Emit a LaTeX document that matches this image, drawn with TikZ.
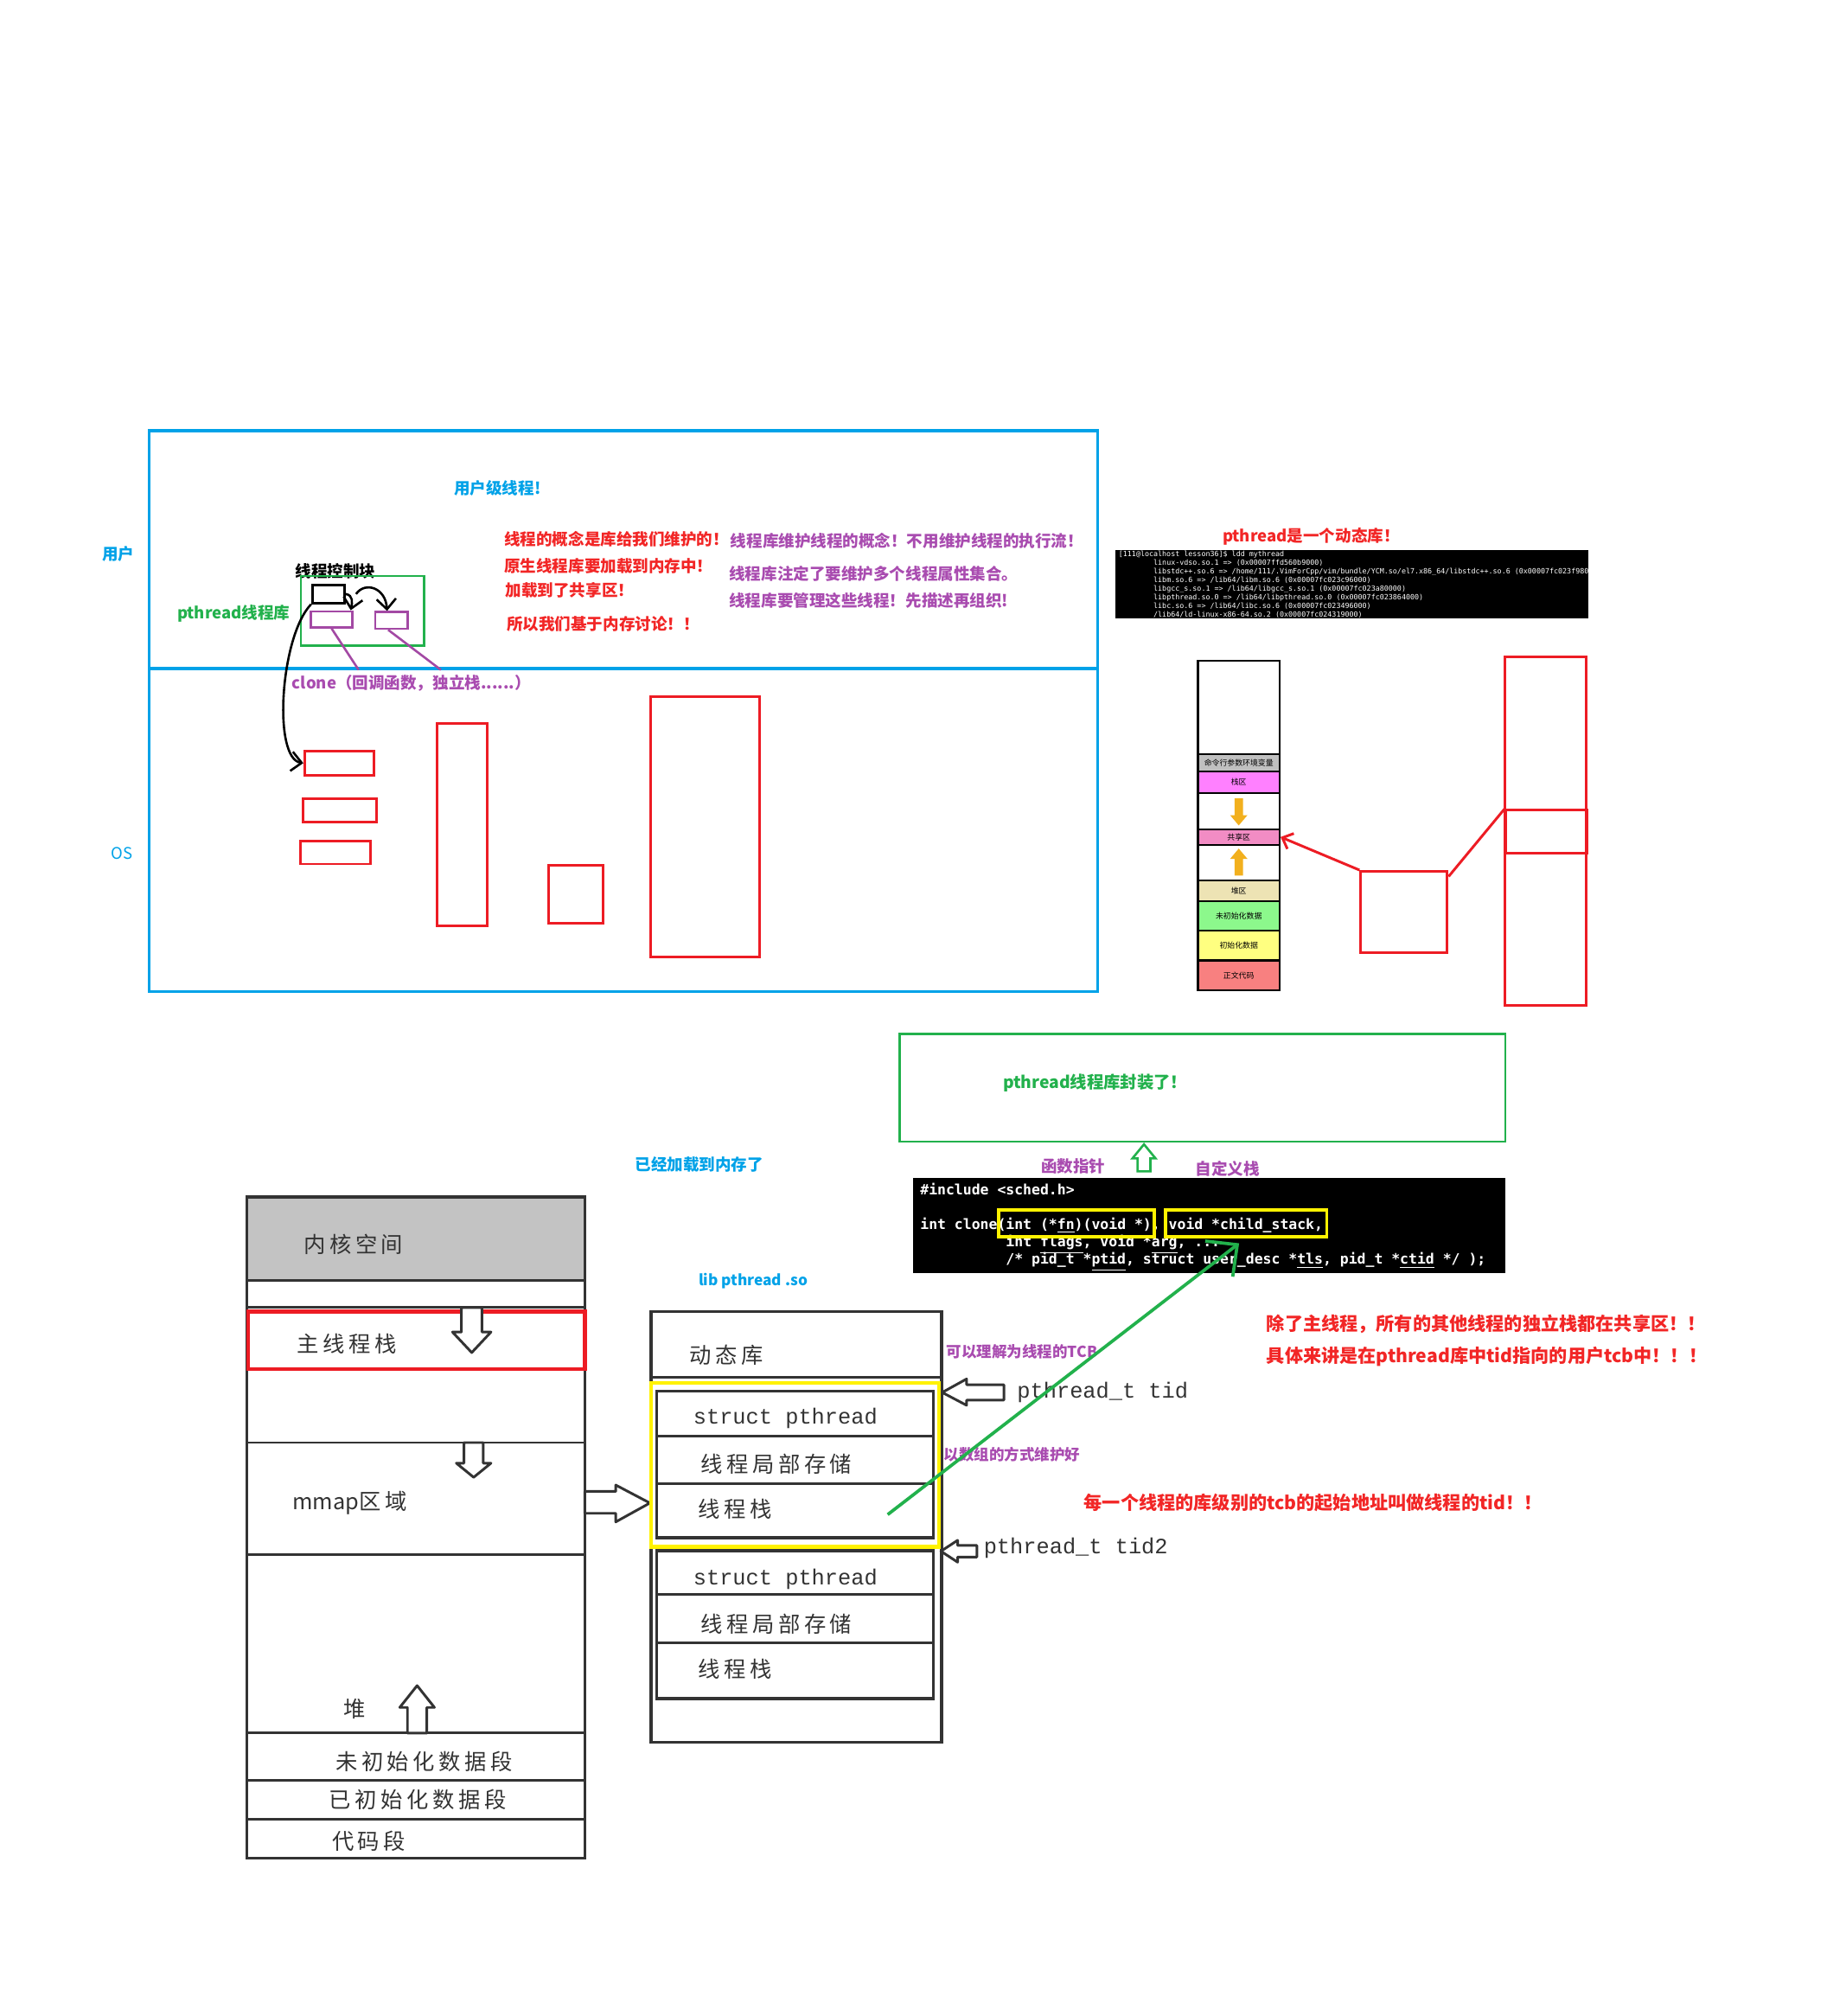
\documentclass[tikz,border=0pt]{standalone}
\usepackage{fontspec}
\usepackage{tikz}
\usetikzlibrary{arrows.meta, positioning, fit}
\newfontfamily\cjk{Noto Sans CJK SC}
\newfontfamily\cjkwide[LetterSpace=18]{Noto Sans CJK SC}
\newfontfamily\codefont{DejaVu Sans Mono}
\newfontfamily\serifmono{Liberation Mono}
\definecolor{paintblue}{HTML}{00A2E8}
\definecolor{paintred}{HTML}{ED1C24}
\definecolor{paintgreen}{HTML}{22B14C}
\definecolor{paintpurple}{HTML}{A349A4}
\definecolor{paintyellow}{HTML}{FFF200}
\definecolor{txtred}{HTML}{F22626}
\definecolor{txtpurple}{HTML}{A94CB0}
\definecolor{sketch}{HTML}{333333}
\definecolor{kernelgray}{HTML}{C3C3C3}
\definecolor{memorange}{HTML}{F2B01E}
\definecolor{memgray}{HTML}{C0C0C0}
\definecolor{memmag}{HTML}{FF80FF}
\definecolor{mempink}{HTML}{F28CC4}
\definecolor{memtan}{HTML}{EDE3B4}
\definecolor{memgreen}{HTML}{8CF88C}
\definecolor{memyel}{HTML}{FFFF80}
\definecolor{memred}{HTML}{F88080}
\newcommand{\lddtab}{\phantom{00000000}}

\begin{document}
\begin{tikzpicture}[x=0.2mm, y=-0.2mm,
        note/.style={inner sep=0pt, font=\cjk\bfseries\fontsize{7.1}{8}\selectfont},
        bignote/.style={inner sep=0pt, text=txtred, font=\cjk\bfseries\fontsize{8.1}{9}\selectfont},
        redbox/.style={draw=paintred, line width=0.4mm, inner sep=0pt},
        bluebox/.style={draw=paintblue, line width=0.45mm, inner sep=0pt},
        greenbox/.style={draw=paintgreen, line width=0.35mm, inner sep=0pt},
        purplebox/.style={draw=paintpurple, line width=0.35mm, inner sep=0pt},
        yellowbox/.style={draw=paintyellow, line width=0.45mm, inner sep=0pt},
        sketchbox/.style={draw=sketch, line width=0.45mm, inner sep=0pt},
        sketchline/.style={draw=sketch, line width=0.4mm},
        sketchtxt/.style={inner sep=0pt, text=sketch, font=\cjkwide\fontsize{9.7}{11}\selectfont},
        monotxt/.style={inner sep=0pt, text=sketch, font=\serifmono\fontsize{9.7}{11}\selectfont},
        hollow/.style={draw=sketch, fill=white, line width=0.4mm, line join=round},
        memrow/.style={draw=black, line width=0.3mm, inner sep=0pt},
        memtxt/.style={inner sep=0pt, font=\cjk\fontsize{3.4}{4}\selectfont},
        codetxt/.style={inner sep=0pt, anchor=base west, text=white, font=\codefont\bfseries\fontsize{6.3}{7.5}\selectfont},
        pen/.style={line width=0.35mm, black},
        barb/.style={-{Straight Barb[length=1.6mm, width=3mm]}}
    ]
    \fill[white] (0,0) rectangle (1436,1568);
    \useasboundingbox (0,0) rectangle (1436,1568);

    % user / os
    \node[bluebox, fit={(116,335) (854,771)}] (space) {};
    \draw[draw=paintblue, line width=0.45mm] (116,520) -- (854,520);
    \node[note, text=paintblue] (usr) at (92,431) {用户};
    \node[note, text=paintblue, font=\cjk\fontsize{7.1}{8}\selectfont] (os) at (95,664) {OS};
    \node[note, text=paintblue] (ult) at (387,380) {用户级线程!};

    % notes in the user part
    \node[note, text=txtred, anchor=west] (r1) at (392,419) {线程的概念是库给我们维护的！};
    \node[note, text=txtred, anchor=west] (r2) at (392,440) {原生线程库要加载到内存中！};
    \node[note, text=txtred, anchor=west] (r3) at (393,459) {加载到了共享区！};
    \node[note, text=txtred, anchor=west] (r4) at (394,485) {所以我们基于内存讨论！！};
    \node[note, text=txtpurple, anchor=west] (p1) at (568,421) {线程库维护线程的概念！不用维护线程的执行流！};
    \node[note, text=txtpurple, anchor=west] (p2) at (567,446) {线程库注定了要维护多个线程属性集合。};
    \node[note, text=txtpurple, anchor=west] (p3) at (567,467) {线程库要管理这些线程！先描述再组织!};

    % pthread library with the control block
    \node[note] (tcbtxt) at (261,444) {线程控制块};
    \node[greenbox, fit={(234,448) (330,502)}] (lib) {};
    \node[note, text=paintgreen, anchor=east] (libtxt) at (226,477) {pthread线程库};
    \node[draw=black, line width=0.4mm, inner sep=0pt, fit={(243,455) (268,469)}] (blk) {};
    \node[purplebox, fit={(242,475.5) (274,488)}] (pa) {};
    \node[purplebox, fit={(292,476) (317,489)}] (pb) {};
    \draw[pen, barb] (blk.east) .. controls (275,463) and (274,469) .. ([xshift=-0.4mm]pa.north east);
    \draw[pen, barb] ([xshift=1.6mm]blk.east) .. controls (284,452) and (300,457) .. ([xshift=2mm]pb.north west);
    \coordinate (ca) at (279,521);
    \coordinate (cb) at (343,521);
    \draw[paintpurple, line width=0.35mm] (pa.south) -- (ca);
    \draw[paintpurple, line width=0.35mm] ([xshift=-0.5mm]pb.south) -- (cb);
    \node[note, text=txtpurple, anchor=west] (clone) at (227,531) {clone（回调函数，独立栈......）};

    % kernel side stacks
    \node[redbox, fit={(237,584) (291,603)}] (ra) {};
    \node[redbox, fit={(236,621.5) (293,639.5)}] (rb) {};
    \node[redbox, fit={(233.6,654) (288,672)}] (rc) {};
    \node[redbox, fit={(340,563) (379,720)}] (rd) {};
    \node[redbox, fit={(426.5,673) (469,718)}] (re) {};
    \node[redbox, fit={(506,542) (591,744)}] (rf) {};
    \draw[pen, barb] (blk.south west) .. controls (218,495) and (212,590) .. (ra.west);

    % ldd output
    \node[note, text=txtred] (dyn) at (1020,417) {pthread是一个动态库！};
    \node[fill=black, inner sep=0pt, fit={(868,428) (1236,481)}] (ldd) {};
    \begin{scope}
        \clip (868,428) rectangle (1236,481);
        \node[inner sep=0pt, anchor=north west, align=left, text=white,
              font=\codefont\fontsize{3.2}{3.8}\selectfont] (lddtxt) at (870,428.5)
            {[111@localhost lesson36]\$ ldd mythread\\
             \lddtab linux-vdso.so.1 =>  (0x00007ffd560b9000)\\
             \lddtab libstdc++.so.6 => /home/111/.VimForCpp/vim/bundle/YCM.so/el7.x86\_64/libstdc++.so.6 (0x00007fc023f98000)\\
             \lddtab libm.so.6 => /lib64/libm.so.6 (0x00007fc023c96000)\\
             \lddtab libgcc\_s.so.1 => /lib64/libgcc\_s.so.1 (0x00007fc023a80000)\\
             \lddtab libpthread.so.0 => /lib64/libpthread.so.0 (0x00007fc023864000)\\
             \lddtab libc.so.6 => /lib64/libc.so.6 (0x00007fc023496000)\\
             \lddtab /lib64/ld-linux-x86-64.so.2 (0x00007fc024319000)};
    \end{scope}

    % process address space
    \foreach \a/\b/\c/\t [count=\n] in {514/586.5/white/{}, 586.5/600/memgray/命令行参数环境变量,
            600/617/memmag/栈区, 617/645/white/{}, 645/657/mempink/共享区, 657/685/white/{},
            685/701/memtan/堆区, 701/724/memgreen/未初始化数据, 724/747/memyel/初始化数据,
            747/770/memred/正文代码}{
        \node[memrow, fill=\c, fit={(932,\a) (995.5,\b)}] (row\n) {};
        \node[memtxt] (rowtxt\n) at (row\n.center) {\t};
    }
    \fill[memorange] (960.5,621) -- (967,621) -- (967,634) -- (970.5,634) -- (963.7,642)
        -- (957,634) -- (960.5,634) -- cycle;
    \fill[memorange] (963.7,660) -- (970.5,668) -- (967,668) -- (967,681) -- (960.5,681)
        -- (960.5,668) -- (957,668) -- cycle;

    % shared area boxes
    \node[redbox, fit={(1058.6,677.7) (1126,741)}] (rsq) {};
    \node[redbox, fit={(1171,511) (1234,782)}] (rtall) {};
    \node[redbox, fit={(1171.6,630) (1235,663.6)}] (rshare) {};
    \draw[paintred, line width=0.4mm, -{Straight Barb[length=1.4mm, width=2.6mm]}] (rsq.north west) -- (row5.east);
    \draw[paintred, line width=0.4mm] ([yshift=-1mm]rsq.north east) -- (rshare.north west);

    % clone signature
    \node[greenbox, fit={(700,804) (1171,888)}] (wrap) {};
    \node[note, text=paintgreen, font=\cjk\bfseries\fontsize{7.4}{8}\selectfont] (wraptxt) at (852,842) {pthread线程库封装了！};
    \draw[draw=paintgreen, fill=white, line width=0.35mm] (890,890) -- (899,901) -- (895,901) -- (895,911)
        -- (885,911) -- (885,901) -- (881,901) -- cycle;
    \node[note, text=txtpurple] (fnptr) at (835,907) {函数指针};
    \node[note, text=txtpurple] (ownstk) at (955,909) {自定义栈};
    \node[fill=black, inner sep=0pt, fit={(710,916) (1171,990)}] (code) {};
    \node[codetxt] (inc) at (715.6,929) {\#include <sched.h>};
    \node[codetxt] (sig1) at (715.6,956) {int clone(int (*\underline{fn})(void *), void *\underline{child\_stack},};
    \node[codetxt] (sig2) at (715.6,969.5) {\phantom{int clone(}int \underline{flags}, void *\underline{arg}, ...};
    \node[codetxt] (sig3) at (715.6,983) {\phantom{int clone(}/* pid\_t *\underline{ptid}, struct user\_desc *\underline{tls}, pid\_t *\underline{ctid} */ );};
    \node[yellowbox, fit={(777,941) (898,962)}] (yfn) {};
    \node[yellowbox, fit={(906.7,941) (1032,962)}] (ystk) {};

    \node[note, text=paintblue] (loaded) at (544,906) {已经加载到内存了};
    \node[note, text=paintblue, font=\cjk\bfseries\fontsize{6.6}{8}\selectfont] (libso) at (586,996) {lib pthread .so};

    % virtual memory layout
    \node[sketchbox, fill=kernelgray, fit={(192,931) (455,996)}] (kern) {};
    \node[sketchbox, fit={(192,931) (455,1445)}] (vm) {};
    \draw[sketchline] (192,1017) -- (455,1017);
    \draw[sketchline] (192,1122) -- (455,1122);
    \draw[sketchline] (192,1209) -- (455,1209);
    \draw[sketchline] (192,1348) -- (455,1348);
    \draw[sketchline] (192,1385) -- (455,1385);
    \draw[sketchline] (192,1415) -- (455,1415);
    \node[draw=paintred, line width=0.6mm, inner sep=0pt, fit={(193,1020) (455,1065)}] (mainstk) {};
    \node[sketchtxt] (kerntxt) at (275,968) {内核空间};
    \node[sketchtxt] (maintxt) at (270,1045) {主线程栈};
    \node[sketchtxt] (mmaptxt) at (272,1169) {{\cjk mmap}区域};
    \node[sketchtxt] (heaptxt) at (276,1329) {堆};
    \node[sketchtxt] (bsstxt) at (330,1370) {未初始化数据段};
    \node[sketchtxt] (datatxt) at (325,1400) {已初始化数据段};
    \node[sketchtxt] (texttxt) at (287,1432) {代码段};
    \draw[hollow] (359,1017) -- (375,1017) -- (375,1036) -- (382,1036) -- (367,1052) -- (352,1036) -- (359,1036) -- cycle;
    \draw[hollow] (361,1122) -- (376,1122) -- (376,1138) -- (382,1138) -- (368.5,1149) -- (355,1138) -- (361,1138) -- cycle;
    \draw[hollow] (324.5,1311) -- (338,1328) -- (332,1328) -- (332,1348) -- (317,1348) -- (317,1328) -- (311,1328) -- cycle;
    \draw[hollow] (455,1160) -- (479,1160) -- (479,1155) -- (505.6,1169) -- (479,1183.7) -- (479,1177) -- (455,1177) -- cycle;

    % libpthread.so in memory
    \node[sketchbox, fit={(506.5,1020) (732.5,1355)}] (so) {};
    \draw[sketchline] (506.5,1071) -- (732.5,1071);
    \node[sketchbox, fit={(511,1082) (726,1196)}] (tcb1) {};
    \draw[sketchline] (511,1117) -- (726,1117);
    \draw[sketchline] (511,1154) -- (726,1154);
    \node[sketchbox, fit={(511,1206) (726,1321)}] (tcb2) {};
    \draw[sketchline] (511,1240) -- (726,1240);
    \draw[sketchline] (511,1278) -- (726,1278);
    \node[yellowbox, line width=0.6mm, fit={(506.5,1075.5) (730.5,1203)}] (ytcb) {};
    \node[sketchtxt] (sotxt) at (565,1054) {动态库};
    \node[monotxt] (st1) at (611,1103) {struct pthread};
    \node[sketchtxt] (tls1) at (604,1139) {线程局部存储};
    \node[sketchtxt] (stk1) at (572,1174) {线程栈};
    \node[monotxt] (st2) at (611,1228) {struct pthread};
    \node[sketchtxt] (tls2) at (604,1263) {线程局部存储};
    \node[sketchtxt] (stk2) at (572,1298) {线程栈};
    \draw[hollow] (733,1083) -- (752,1072.5) -- (752,1077) -- (781,1077) -- (781,1089) -- (752,1089) -- (752,1093) -- cycle;
    \draw[hollow] (732,1206.5) -- (745,1198) -- (745,1202) -- (760,1202) -- (760,1211) -- (745,1211) -- (745,1215) -- cycle;
    \node[monotxt, anchor=west] (tid) at (791,1083) {pthread\_t tid};
    \node[monotxt, anchor=west] (tid2) at (765,1204) {pthread\_t tid2};
    \node[note, text=txtpurple, anchor=west, font=\cjk\bfseries\fontsize{6.7}{8}\selectfont] (tcbnote) at (736,1051) {可以理解为线程的TCB};
    \node[note, text=txtpurple, anchor=west, font=\cjk\bfseries\fontsize{6.7}{8}\selectfont] (arrnote) at (734,1131) {以数组的方式维护好};

    % conclusions
    \node[bignote, anchor=west] (c1) at (985,1030) {除了主线程，所有的其他线程的独立栈都在共享区！！};
    \node[bignote, anchor=west] (c2) at (985,1055) {具体来讲是在pthread库中tid指向的用户tcb中！！！};
    \node[bignote, anchor=west] (c3) at (843,1169) {每一个线程的库级别的tcb的起始地址叫做线程的tid！！};

    % thread stack handed to clone
    \coordinate (stkpt) at (690.6,1178);
    \coordinate (csarg) at (964,967);
    \draw[paintgreen, line width=0.5mm, -{Straight Barb[length=3.6mm, width=7mm]}] (stkpt) -- (csarg);
\end{tikzpicture}
\end{document}
